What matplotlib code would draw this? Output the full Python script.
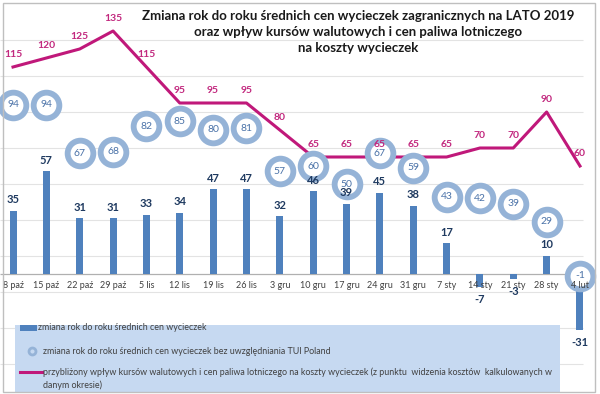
import matplotlib
matplotlib.use("Agg")
import matplotlib.pyplot as plt
from matplotlib.patches import Rectangle
from matplotlib.lines import Line2D

plt.rcParams['font.family'] = ['Lato', 'DejaVu Sans']

W, H = 600, 394

dates = ["8 paź", "15 paź", "22 paź", "29 paź", "5 lis", "12 lis", "19 lis", "26 lis",
         "3 gru", "10 gru", "17 gru", "24 gru", "31 gru", "7 sty", "14 sty", "21 sty",
         "28 sty", "4 lut"]
zmiana = [35, 57, 31, 31, 33, 34, 47, 47, 32, 46, 39, 45, 38, 17, -7, -3, 10, -31]
bez_tui = [94, 94, 67, 68, 82, 85, 80, 81, 57, 60, 50, 67, 59, 43, 42, 39, 29, -1]
kursy = [115, 120, 125, 135, 115, 95, 95, 95, 80, 65, 65, 65, 65, 65, 70, 70, 90, 60]

title = ("Zmiana rok do roku średnich cen wycieczek zagranicznych na LATO 2019\n"
         "oraz wpływ kursów walutowych i cen paliwa lotniczego\n"
         "na koszty wycieczek")
leg_labels = ["zmiana rok do roku średnich cen wycieczek",
              "zmiana rok do roku średnich cen wycieczek bez uwzględniania TUI Poland",
              "przybliżony wpływ kursów walutowych i cen paliwa lotniczego na koszty wycieczek "
              "(z punktu  widzenia kosztów  kalkulowanych w\ndanym okresie)"]

BAR_C = "#4f81bd"
RING_C = "#95b3d7"
LINE_C = "#c0187a"


def fx(px):
    return px / W


def fy(py):
    return 1 - py / H


fig = plt.figure(figsize=(W / 100, H / 100), dpi=100)
ax = fig.add_axes([0, 0, 1, 1])
ax.set_xlim(-0.39, 17.6)
ax.set_ylim(-120 / 1.8, 274 / 1.8)
ax.axis("off")

x = list(range(len(dates)))
xmax_grid = (583 - 13) / 33.35

# siatka
for v in range(-50, 140, 20):
    ax.hlines(v, -0.39, xmax_grid, color="#e3e3e3", lw=0.8, zorder=0)
ax.hlines(0, -0.39, xmax_grid, color="#b0b0b0", lw=0.9, zorder=1)

ax.plot(x, kursy, color=LINE_C, lw=2.2, zorder=2)
ax.bar(x, zmiana, width=0.21, color=BAR_C, zorder=3)
ax.plot(x, bez_tui, "o", ls="none", ms=18.5, mfc="white", mec=RING_C, mew=4.2, zorder=4)

for xi, v in zip(x, kursy):
    ax.annotate(str(v), (xi, v), xytext=(0, 9), textcoords="offset points",
                ha="center", va="center", fontsize=7.5, fontweight="bold",
                color="#c2287e", zorder=6)

for xi, v in zip(x, bez_tui):
    ax.annotate(str(v), (xi, v), ha="center", va="center", fontsize=7.5,
                color="#4a72a8", zorder=6)

for xi, v in zip(x, zmiana):
    off = 8 if v >= 0 else -9
    ax.annotate(str(v), (xi, v), xytext=(0, off), textcoords="offset points",
                ha="center", va="center", fontsize=8, fontweight="bold",
                color="#1f3a60", zorder=7)

for xi, d in zip(x, dates):
    ax.annotate(d, (xi, 0), xytext=(0, -8), textcoords="offset points",
                ha="center", va="center", fontsize=6.5, color="#404040", zorder=6)

fig.text(fx(358), fy(32), title, ha="center", va="center", fontsize=9.5,
         fontweight="bold", color="#1a1a1a", linespacing=1.35)

# legenda
fig.patches.append(Rectangle((fx(15), fy(392)), fx(545), 67 / H,
                             transform=fig.transFigure, facecolor="#c6d9f1",
                             edgecolor="none", zorder=8))
fig.patches.append(Rectangle((fx(20), fy(331)), fx(17), 6 / H,
                             transform=fig.transFigure, facecolor=BAR_C,
                             edgecolor="none", zorder=9))
fig.lines.append(Line2D([fx(32)], [fy(351)], marker="o", ms=5, mfc="#c6d9f1",
                        mec=RING_C, mew=2, transform=fig.transFigure, zorder=9))
fig.lines.append(Line2D([fx(20), fx(42)], [fy(372), fy(372)], color=LINE_C, lw=2.2,
                        transform=fig.transFigure, zorder=9))
fig.text(fx(38), fy(328), leg_labels[0], fontsize=6.4, color="#404040", va="center", zorder=10)
fig.text(fx(43), fy(351), leg_labels[1], fontsize=6.4, color="#404040", va="center", zorder=10)
fig.text(fx(43), fy(379), leg_labels[2], fontsize=6.4, color="#404040", va="center",
         linespacing=1.45, zorder=10)

# ramka
fig.patches.append(Rectangle((fx(3), fy(392)), fx(592), 389 / H,
                             transform=fig.transFigure, facecolor="none",
                             edgecolor="#bfbfbf", lw=1, zorder=11))

fig.savefig("out.png", dpi=100)
plt.close(fig)
